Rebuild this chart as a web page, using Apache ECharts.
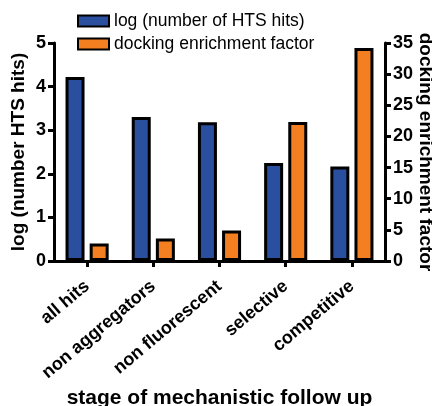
<!DOCTYPE html>
<html>
<head>
<meta charset="utf-8">
<script src="https://cdn.jsdelivr.net/npm/echarts@6/dist/echarts.min.js"></script>
<style>
html,body{margin:0;padding:0;background:#fff}
#chart{width:432px;height:406px}
</style>
</head>
<body>
<div id="chart"></div>
<script>
var stages = ['all hits', 'non aggregators', 'non fluorescent', 'selective', 'competitive']
var logHits = [4.22, 3.30, 3.18, 2.25, 2.17]
var enrichment = [2.8, 3.6, 4.9, 22.3, 34.2]
var leftTicks = {min: 0, max: 5, interval: 1}
var rightTicks = {min: 0, max: 35, interval: 5}

var font = 'Arial, "Liberation Sans", Helvetica, sans-serif'
var axisLine = {show: true, lineStyle: {color: '#000', width: 3}}
var axisTick = {show: true, length: 6, lineStyle: {color: '#000', width: 3}}
var tickLabel = {color: '#000', fontWeight: 'bold', fontSize: 18, fontFamily: font}
var nameStyle = {color: '#000', fontWeight: 'bold', fontSize: 19, fontFamily: font}

var chart = echarts.init(document.getElementById('chart'))
chart.setOption({
    animation: false,
    backgroundColor: '#fff',
    legend: {
        orient: 'vertical',
        left: 72,
        top: 7,
        icon: 'rect',
        itemWidth: 31,
        itemHeight: 11,
        itemGap: 5,
        textStyle: {color: '#000', fontSize: 17.5, fontFamily: font},
        data: ['log (number of HTS hits)', 'docking enrichment factor']
    },
    grid: {left: 54, right: 47, top: 43, bottom: 145, outerBoundsMode: 'none'},
    xAxis: {
        type: 'category',
        data: stages,
        axisLine: axisLine,
        axisTick: {show: true, alignWithLabel: true, length: 6, lineStyle: {color: '#000', width: 3}},
        axisLabel: Object.assign({}, tickLabel, {rotate: 40, fontSize: 18, margin: 23, interval: 0}),
        name: 'stage of mechanistic follow up',
        nameLocation: 'middle',
        nameGap: 127,
        nameMoveOverlap: false,
        nameTextStyle: Object.assign({}, nameStyle, {fontSize: 21})
    },
    yAxis: [{
        type: 'value',
        min: leftTicks.min, max: leftTicks.max, interval: leftTicks.interval,
        splitLine: {show: false},
        axisLine: axisLine,
        axisTick: axisTick,
        axisLabel: Object.assign({}, tickLabel, {margin: 8}),
        name: 'log (number HTS hits)',
        nameLocation: 'middle',
        nameGap: 26,
        nameMoveOverlap: false,
        nameTextStyle: nameStyle
    }, {
        type: 'value',
        position: 'right',
        min: rightTicks.min, max: rightTicks.max, interval: rightTicks.interval,
        splitLine: {show: false},
        axisLine: axisLine,
        axisTick: axisTick,
        axisLabel: Object.assign({}, tickLabel, {margin: 8}),
        name: 'docking enrichment factor',
        nameLocation: 'middle',
        nameRotate: -90,
        nameGap: 31,
        nameMoveOverlap: false,
        nameTextStyle: nameStyle
    }],
    series: [{
        name: 'log (number of HTS hits)',
        type: 'bar',
        yAxisIndex: 0,
        data: logHits,
        barWidth: 19,
        barGap: '27%',
        itemStyle: {color: '#2a4f9f', borderColor: '#000', borderWidth: 3}
    }, {
        name: 'docking enrichment factor',
        type: 'bar',
        yAxisIndex: 1,
        data: enrichment,
        barWidth: 19,
        barGap: '27%',
        itemStyle: {color: '#f47f20', borderColor: '#000', borderWidth: 3}
    }]
})
</script>
</body>
</html>
